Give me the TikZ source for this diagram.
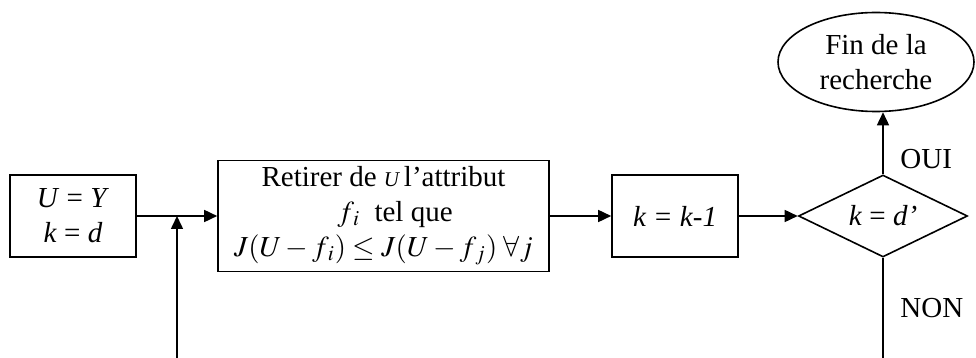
\documentclass[tikz,border=0pt]{standalone}
\usepackage{mathptmx}
\usepackage[no-math]{fontspec}
\setmainfont{Liberation Serif}
\usetikzlibrary{arrows.meta,positioning,calc,shapes.geometric}

\begin{document}
\begin{tikzpicture}[
    x=0.5pt, y=-0.5pt,
    font=\fontsize{14.5}{17.5}\selectfont,
    bloc/.style={draw, line width=.8pt, align=center, inner sep=2pt},
    test/.style={draw, diamond, aspect=2, line width=.8pt, inner sep=0pt,
      minimum width=84.5pt, minimum height=41pt},
    arrow/.style={-{Triangle[length=6.5pt,width=6pt]}, line width=.8pt}
  ]
    \useasboundingbox (0,0) rectangle (976,358);

    \node[bloc, minimum width=63pt, minimum height=41pt] (init) at (73,216)
      {\textit{U} = \textit{Y}\\ \textit{k} = \textit{d}};
    \node[bloc, minimum width=165.5pt, minimum height=55.5pt] (retirer) at (383.5,216)
      {Retirer de {\fontsize{10.5}{12}\selectfont\itshape U}\,l’attribut\\
       \hspace{.8em}$f_{\,i}$\ \ tel que\\
       $J(U-f_{\,i})\leq J(U-f_{\,j})\;\forall j$};
    \node[bloc, minimum width=63pt, minimum height=41pt] (decr) at (675,216)
      {\textit{k = k-1}};
    \node[test] (test) at (883,216) {\textit{k} = \textit{d’}};
    \node[draw, ellipse, line width=.8pt, inner sep=0pt, align=center,
      minimum width=98pt, minimum height=49.5pt] (fin) at (876,62)
      {Fin de la\\ recherche};

    % boucle coupee en bas de l'image
    \coordinate (retour) at (177,358);
    \coordinate (boucle) at (test.south |- retour);

    \draw[arrow] (init) -- (retirer);
    \draw[arrow] (retour) -- (retour |- init.east);
    \draw[arrow] (retirer) -- (decr);
    \draw[arrow] (decr) -- (test);
    \draw[arrow] (test.north) -- node[pos=.25, right=5pt] {OUI} (test.north |- fin.south);
    \draw[line width=.8pt] (test.south) -- node[pos=.5, right=5pt] {NON} (boucle);
  \end{tikzpicture}
\end{document}
